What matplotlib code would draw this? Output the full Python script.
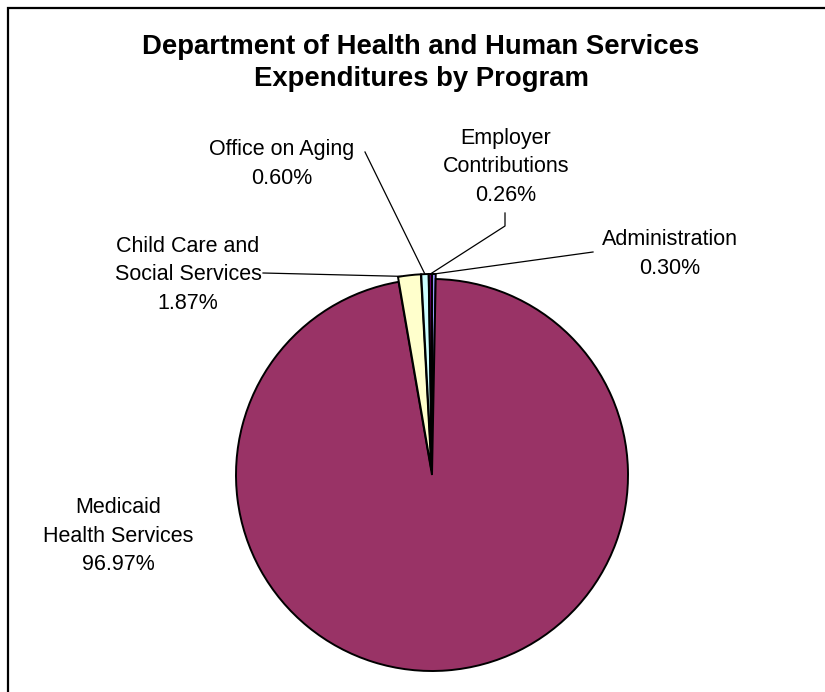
import numpy as np
import matplotlib.pyplot as plt
from matplotlib.patches import Rectangle

plt.rcParams['font.family'] = ['Liberation Sans', 'DejaVu Sans']

### Data (Excel series order, pie starts at 12 o'clock going clockwise)
programs = ['Administration', 'Medicaid\nHealth Services', 'Child Care and\nSocial Services',
            'Office on Aging', 'Employer\nContributions']
shares   = [0.30, 96.97, 1.87, 0.60, 0.26]
colors   = ['#9999FF', '#993366', '#FFFFCC', '#CCFFFF', '#660066']
title    = 'Department of Health and Human Services\nExpenditures by Program'

### Layout (pixel coords, y measured from top of the image)
W, H = 825, 692
pie_c = (432, 475)
pie_r = 196
explode = [5, 0, 5, 5, 5]
# label centre, leader start (None = no leader), where on the wedge the leader hits (0..1 across)
label_pos  = [(670, 254), (118, 536), (188, 275), (282, 164), (506, 167)]
leader_beg = [[(593, 252)], None, [(263, 273)], [(365, 152)], [(505, 213), (505, 226)]]
leader_frac = [0.5, 0.5, 0.85, 0.5, 0.5]

def fy(y):
    return H - y

fig = plt.figure(figsize=(W/100, H/100), dpi=100)
ax = fig.add_axes([0, 0, 1, 1])

wedges, _ = ax.pie(shares, colors=colors, startangle=90, counterclock=False,
                   center=(pie_c[0], fy(pie_c[1])), radius=pie_r,
                   explode=explode, wedgeprops=dict(edgecolor='black', linewidth=1.4))

for i, w in enumerate(wedges):
    lx, ly = label_pos[i]
    ax.text(lx, fy(ly), '%s\n%.2f%%' % (programs[i], shares[i]), ha='center', va='center',
            fontsize=15.5, linespacing=1.45, color='black')
    if leader_beg[i] is None:
        continue
    # point on the outer edge of the wedge
    ang = np.deg2rad(w.theta1 + leader_frac[i]*(w.theta2 - w.theta1))
    cx, cy = w.center
    px = cx + w.r*np.cos(ang)
    py = cy + w.r*np.sin(ang)
    xs = [p[0] for p in leader_beg[i]] + [px]
    ys = [fy(p[1]) for p in leader_beg[i]] + [py]
    ax.plot(xs, ys, color='black', linewidth=0.9)

ax.text(421, fy(63), title, ha='center', va='center', fontsize=19.8,
        fontweight='bold', linespacing=1.33)

# chart frame (right and bottom sides fall outside the image)
ax.add_patch(Rectangle((8, -10), W + 20, fy(8) + 10, fill=False, edgecolor='black', linewidth=1.6))

ax.set_xlim(0, W)
ax.set_ylim(0, H)
ax.set_aspect('auto')
ax.axis('off')

fig.savefig('out.png', dpi=100)
